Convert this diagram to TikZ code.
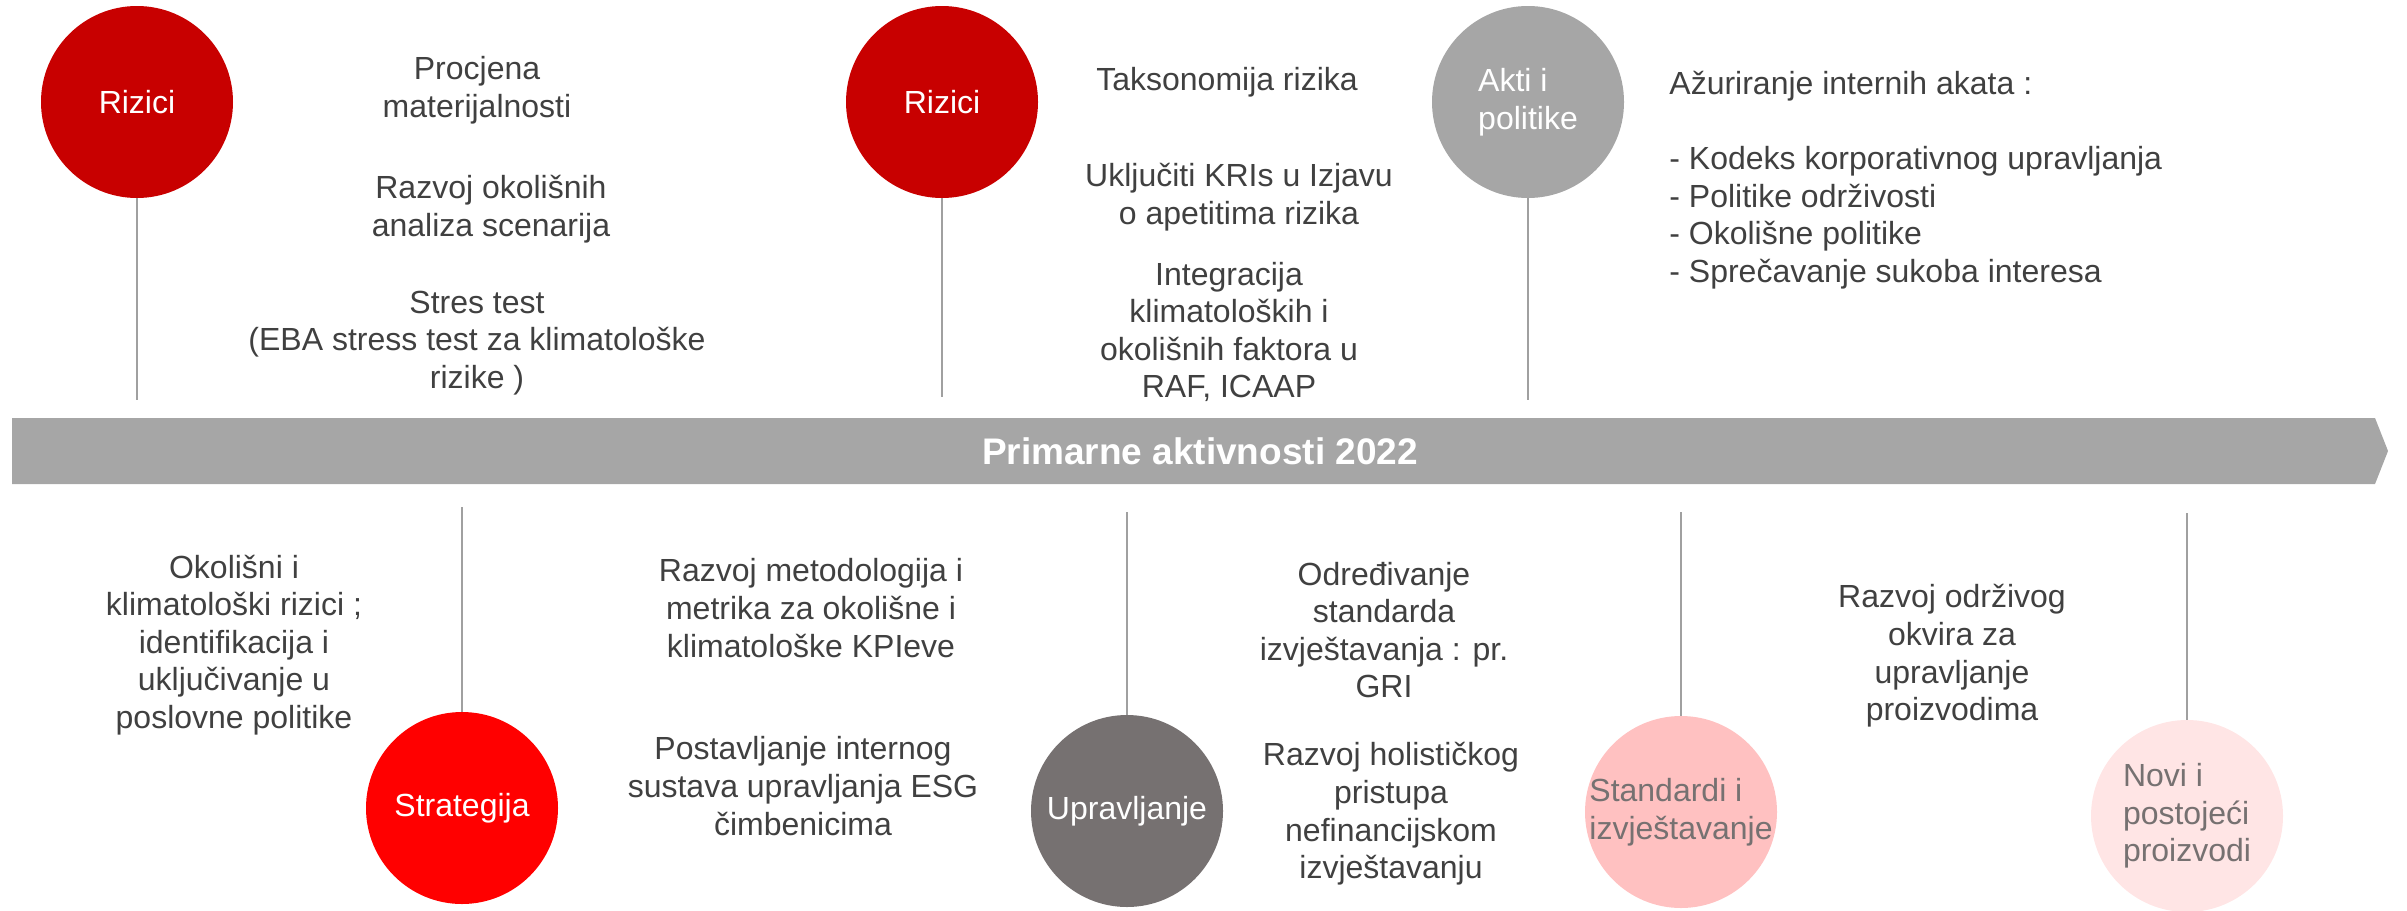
\documentclass[tikz,border=0pt]{standalone}
\usepackage{fontspec}
\setmainfont{Liberation Sans}
\usetikzlibrary{positioning}

\definecolor{rizred}{HTML}{C80000}
\definecolor{stratred}{HTML}{FF0000}
\definecolor{aktigray}{HTML}{A6A6A6}
\definecolor{upravgray}{HTML}{767171}
\definecolor{standpink}{HTML}{FFC1C1}
\definecolor{novipink}{HTML}{FFE5E5}
\definecolor{bargray}{HTML}{A6A6A6}
\definecolor{txtgray}{HTML}{404040}
\definecolor{stemgray}{HTML}{A0A0A0}

\begin{document}
\begin{tikzpicture}[
    x=0.5pt, y=-0.5pt,
    circstyle/.style = {circle,
                        minimum size=96pt,
                        inner sep=0pt,
                        align=center,
                        text=white,
                        font=\fontsize{16}{18.8}\selectfont},
    txtstyle/.style  = {align=center,
                        inner sep=0pt,
                        text=txtgray,
                        font=\fontsize{16}{18.8}\selectfont},
    stemstyle/.style = {draw=stemgray,
                        line width=0.8pt}
]
\useasboundingbox (0,0) rectangle (2407,910);

% timeline bar
\fill[bargray] (12,418) -- (2375,418) -- (2388,451) -- (2375,484) -- (12,484) -- cycle;
\node (title) at (1200,451) [text=white, font=\fontsize{18.5}{22}\selectfont\bfseries] {Primarne aktivnosti 2022};

% upper row
\node (riz1) [circstyle, fill=rizred] at (137,102) {Rizici};
\node (riz2) [circstyle, fill=rizred] at (942,102) {Rizici};
\node (akti) [circstyle, fill=aktigray, align=left] at (1528,102) {Akti i\\politike};

\coordinate (e1) at (137,400);
\coordinate (e2) at (942,397);
\coordinate (e3) at (1528,400);
\draw[stemstyle] (riz1) -- (e1);
\draw[stemstyle] (riz2) -- (e2);
\draw[stemstyle] (akti) -- (e3);

\node (t1) [txtstyle] at (477,90) {Procjena\\materijalnosti};
\node (t2) [txtstyle] at (491,209) {Razvoj okolišnih\\analiza scenarija};
\node (t3) [txtstyle] at (477,343) {Stres test\\(EBA stress test za klimatološke\\rizike )};

\node (t4) [txtstyle] at (1227,82) {Taksonomija rizika};
\node (t5) [txtstyle] at (1239,197) {Uključiti KRIs u Izjavu\\o apetitima rizika};
\node (t6) [txtstyle] at (1229,332) {Integracija\\klimatoloških i\\okolišnih faktora u\\RAF, ICAAP};

\node (t7) [txtstyle, align=left, anchor=west] at (1669,180) {
Ažuriranje internih akata :\\[18.8pt]
- Kodeks korporativnog upravljanja\\
- Politike održivosti\\
- Okolišne politike\\
- Sprečavanje sukoba interesa
};

% lower row
\node (strat) [circstyle, fill=stratred] at (462,808) {Strategija};
\node (uprav) [circstyle, fill=upravgray] at (1127,811) {Upravljanje};
\node (stand) [circstyle, fill=standpink, text=upravgray, align=left, inner sep=-9pt] at (1681,812) {Standardi i\\izvještavanje};
\node (novi) [circstyle, fill=novipink, text=upravgray, align=left, inner sep=-4pt] at (2187,816) {Novi i\\postojeći\\proizvodi};

\coordinate (s1) at (462,507);
\coordinate (s2) at (1127,512);
\coordinate (s3) at (1681,512);
\coordinate (s4) at (2187,513);
\draw[stemstyle] (strat) -- (s1);
\draw[stemstyle] (uprav) -- (s2);
\draw[stemstyle] (stand) -- (s3);
\draw[stemstyle] (novi) -- (s4);

\node (b1) [txtstyle] at (234,645) {Okolišni i\\klimatološki rizici ;\\identifikacija i\\uključivanje u\\poslovne politike};
\node (b2) [txtstyle] at (811,608) {Razvoj metodologija i\\metrika za okolišne i\\klimatološke KPIeve};
\node (b3) [txtstyle] at (803,786) {Postavljanje internog\\sustava upravljanja ESG\\čimbenicima};
\node (b4) [txtstyle] at (1384,630) {Određivanje\\standarda\\izvještavanja : pr.\\GRI};
\node (b5) [txtstyle] at (1391,814) {Razvoj holističkog\\pristupa\\nefinancijskom\\izvještavanju};
\node (b6) [txtstyle] at (1952,656) {Razvoj održivog\\okvira za\\upravljanje\\proizvodima};

\end{tikzpicture}
\end{document}
